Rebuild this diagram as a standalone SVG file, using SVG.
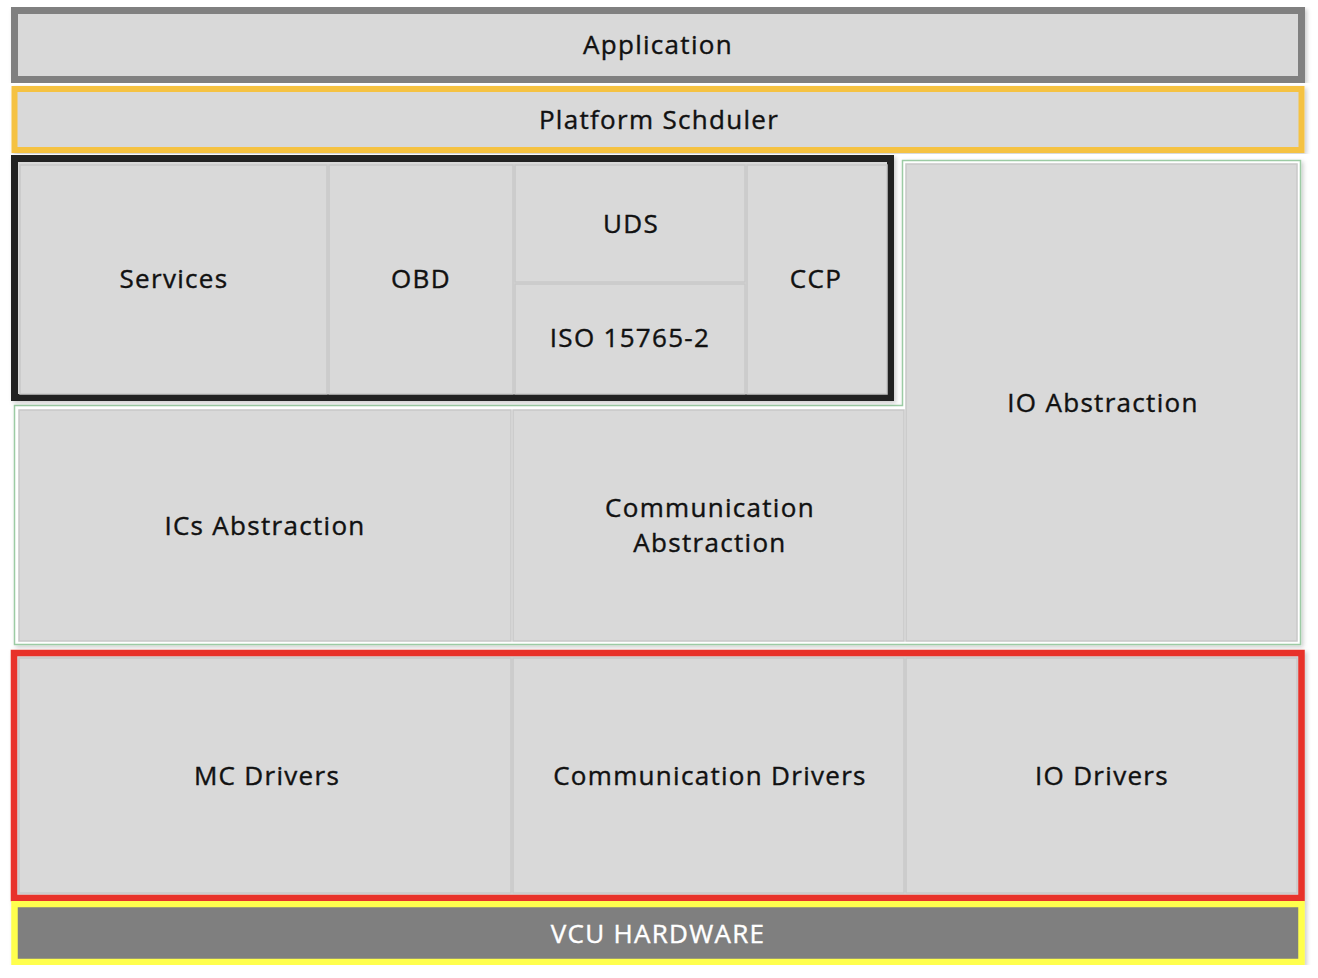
<svg xmlns="http://www.w3.org/2000/svg" width="1318" height="978" viewBox="0 0 1318 978">
<style>
.cell{fill:#D9D9D9;stroke:#C8C8C8;stroke-width:1.5}
.lbl{font-family:"Open Sans","Liberation Sans",sans-serif;font-size:26px;fill:#111;stroke:#111;stroke-width:0.4;text-anchor:middle;dominant-baseline:central;letter-spacing:1.3px}
</style>
<defs>
<filter id="sh" x="-5%" y="-5%" width="110%" height="110%"><feDropShadow dx="2" dy="2" stdDeviation="2" flood-color="#000" flood-opacity="0.2"/></filter>
</defs>
<rect width="1318" height="978" fill="#fff"/>
<g id="application">
<rect x="14.5" y="10.5" width="1287" height="69" fill="#D9D9D9" stroke="#808080" stroke-width="7" filter="url(#sh)"/>
<text class="lbl" x="658" y="44">Application</text>
</g>
<g id="platform-scheduler">
<rect x="14.5" y="89" width="1287" height="61" fill="#D9D9D9" stroke="#F5C242" stroke-width="6" filter="url(#sh)"/>
<text class="lbl" x="659" y="119">Platform Schduler</text>
</g>
<g id="abstraction-frame">
<path d="M14.5,405.5 H902.5 V160.5 H1300.5 V644.5 H14.5 Z" fill="#fff" stroke="#9CCBA4" stroke-width="1.5" filter="url(#sh)"/>
</g>
<g id="io-abstraction">
<rect class="cell" x="906" y="164" width="391" height="477"/>
<text class="lbl" x="1103" y="402">IO Abstraction</text>
</g>
<g id="ics-abstraction">
<rect class="cell" x="19" y="410" width="492" height="231"/>
<text class="lbl" x="265" y="525">ICs Abstraction</text>
</g>
<g id="communication-abstraction">
<rect class="cell" x="513" y="410" width="391" height="231"/>
<text class="lbl" x="710" y="507">Communication</text>
<text class="lbl" x="710" y="542">Abstraction</text>
</g>
<g id="services-frame">
<rect x="14.5" y="158.5" width="876" height="239" fill="#D9D9D9" stroke="#222222" stroke-width="7" filter="url(#sh)"/>
</g>
<g id="services">
<rect class="cell" x="20" y="165" width="307" height="229"/>
<text class="lbl" x="174" y="278">Services</text>
</g>
<g id="obd">
<rect class="cell" x="329" y="165" width="184" height="229"/>
<text class="lbl" x="421" y="278">OBD</text>
</g>
<g id="uds">
<rect class="cell" x="515" y="165" width="230" height="117"/>
<text class="lbl" x="631" y="223">UDS</text>
</g>
<g id="iso-15765-2">
<rect class="cell" x="515" y="284" width="230" height="110"/>
<text class="lbl" x="630" y="337">ISO 15765-2</text>
</g>
<g id="ccp">
<rect class="cell" x="747" y="165" width="140" height="229"/>
<text class="lbl" x="816" y="278">CCP</text>
</g>
<g id="drivers-frame">
<rect x="14" y="653" width="1287.5" height="245" fill="#D9D9D9" stroke="#E8302A" stroke-width="6.5" filter="url(#sh)"/>
</g>
<g id="mc-drivers">
<rect class="cell" x="19" y="658" width="492" height="235"/>
<text class="lbl" x="267" y="775">MC Drivers</text>
</g>
<g id="communication-drivers">
<rect class="cell" x="513" y="658" width="391" height="235"/>
<text class="lbl" x="710" y="775">Communication Drivers</text>
</g>
<g id="io-drivers">
<rect class="cell" x="906" y="658" width="391" height="235"/>
<text class="lbl" x="1102" y="775">IO Drivers</text>
</g>
<g id="vcu-hardware">
<rect x="14.5" y="904" width="1287" height="58" fill="#7F7F7F" stroke="#FFFF4D" stroke-width="6.5" filter="url(#sh)"/>
<text class="lbl" x="658" y="933" style="fill:#fff;stroke:#fff">VCU HARDWARE</text>
</g>
<g id="connectors"/>
</svg>
